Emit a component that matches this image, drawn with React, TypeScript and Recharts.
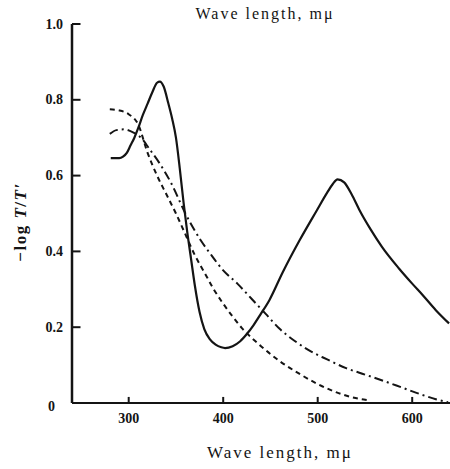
import React from "react";
import { LineChart, Line, XAxis, YAxis, ReferenceLine } from "recharts";

// Solid curve
const aWave = [281, 290, 294, 298, 302, 306, 310, 315, 320, 325, 330, 333, 337, 342, 346, 350, 354, 358, 362, 366, 370, 375, 380, 386, 392, 398, 402, 410, 418, 425, 432, 439, 449, 463, 481, 499, 510, 516, 521, 528, 536, 544, 556, 568, 586, 600, 611, 625, 639];
const aVal = [0.646, 0.646, 0.65, 0.66, 0.68, 0.7, 0.725, 0.76, 0.79, 0.82, 0.845, 0.848, 0.835, 0.79, 0.75, 0.7, 0.62, 0.53, 0.45, 0.38, 0.31, 0.24, 0.195, 0.168, 0.154, 0.147, 0.145, 0.15, 0.163, 0.182, 0.205, 0.232, 0.272, 0.345, 0.43, 0.508, 0.555, 0.578, 0.59, 0.582, 0.55, 0.51, 0.458, 0.412, 0.355, 0.315, 0.285, 0.245, 0.21];

// Short-dashed curve (ends near 550)
const bWave = [280, 290, 300, 310, 320, 330, 340, 350, 360, 370, 380, 390, 400, 410, 420, 430, 440, 460, 480, 500, 520, 540, 552];
const bVal = [0.775, 0.772, 0.762, 0.735, 0.66, 0.6, 0.55, 0.5, 0.445, 0.39, 0.345, 0.3, 0.262, 0.228, 0.197, 0.172, 0.15, 0.11, 0.078, 0.05, 0.028, 0.013, 0.008];

// Dash-dot curve (ends near 640)
const cWave = [280, 287, 295, 303, 313, 322, 332, 345, 360, 376, 386, 400, 415, 430, 445, 460, 475, 490, 510, 530, 550, 570, 590, 610, 625, 638];
const cVal = [0.71, 0.72, 0.722, 0.716, 0.7, 0.67, 0.635, 0.58, 0.5, 0.43, 0.395, 0.35, 0.315, 0.275, 0.235, 0.195, 0.165, 0.14, 0.115, 0.092, 0.075, 0.058, 0.04, 0.022, 0.01, 0.002];

const xTicks = [300, 400, 500, 600];
const yTicks = [0, 0.2, 0.4, 0.6, 0.8, 1.0];
const axisTitle = "Wave length, m\u03bc";

const X_MIN = 240;
const X_MAX = 640;
// inward tick lengths expressed in axis units (~8px and ~6px)
const Y_TICK_LEN = 9;
const X_TICK_LEN = 0.016;

const toPoints = (xs: number[], ys: number[]) => xs.map((x, i) => ({ x, y: ys[i] }));
const dataA = toPoints(aWave, aVal);
const dataB = toPoints(bWave, bVal);
const dataC = toPoints(cWave, cVal);

const FONT = "'Liberation Serif', 'DejaVu Serif', serif";
const INK = "#141414";

const YTick = (props: any) => {
  const { x, y, payload } = props;
  const v = Number(payload.value);
  const px = Number(x);
  const py = Number(y);
  const label = v === 0 ? "0" : v.toFixed(1);
  return (
    <text
      x={v === 0 ? px - 8 : px}
      y={v === 0 ? py + 3 : py}
      textAnchor="end"
      dominantBaseline="central"
      fontFamily={FONT}
      fontSize={14}
      fontWeight="bold"
      fill={INK}
    >
      {label}
    </text>
  );
};

const XTick = (props: any) => {
  const { x, y, payload } = props;
  return (
    <text
      x={Number(x)}
      y={Number(y) + 6}
      textAnchor="middle"
      dominantBaseline="central"
      fontFamily={FONT}
      fontSize={14}
      fontWeight="bold"
      fill={INK}
    >
      {String(payload.value)}
    </text>
  );
};

export default function App() {
  return (
    <div style={{ position: "absolute", left: 0, top: 0, width: 450, height: 469, background: "#fff" }}>
      <LineChart width={450} height={469} margin={{ top: 0, right: 0, bottom: 0, left: 0 }}>
        <XAxis
          xAxisId="top"
          orientation="top"
          type="number"
          dataKey="x"
          domain={[X_MIN, X_MAX]}
          height={24}
          axisLine={false}
          tickLine={false}
          tick={false}
          label={{ value: axisTitle, position: "center", dx: 4, dy: 1, fontFamily: FONT, fontSize: 16, letterSpacing: 2, fill: INK }}
        />
        <XAxis
          type="number"
          dataKey="x"
          domain={[X_MIN, X_MAX]}
          ticks={xTicks}
          height={66}
          axisLine={{ stroke: INK, strokeWidth: 2 }}
          tickLine={false}
          tickSize={6}
          tickMargin={3}
          tick={<XTick />}
          label={{ value: axisTitle, position: "center", dx: 19, dy: 16, fontFamily: FONT, fontSize: 17, letterSpacing: 2, fill: INK }}
        />
        <YAxis
          type="number"
          domain={[0, 1]}
          ticks={yTicks}
          width={72}
          axisLine={{ stroke: INK, strokeWidth: 2.5 }}
          tickLine={false}
          tickSize={6}
          tickMargin={3}
          tick={<YTick />}
        />
        {yTicks.map((t) => (
          <ReferenceLine
            key={`yt${t}`}
            segment={[{ x: X_MIN, y: t }, { x: X_MIN + Y_TICK_LEN, y: t }]}
            stroke={INK}
            strokeWidth={2}
            ifOverflow="visible"
          />
        ))}
        {xTicks.map((t) => (
          <ReferenceLine
            key={`xt${t}`}
            segment={[{ x: t, y: 0 }, { x: t, y: X_TICK_LEN }]}
            stroke={INK}
            strokeWidth={2}
            ifOverflow="visible"
          />
        ))}
        <Line data={dataA} dataKey="y" type="monotone" stroke={INK} strokeWidth={2.2} dot={false} isAnimationActive={false} />
        <Line data={dataB} dataKey="y" type="monotone" stroke={INK} strokeWidth={2} strokeDasharray="5 4" dot={false} isAnimationActive={false} />
        <Line data={dataC} dataKey="y" type="monotone" stroke={INK} strokeWidth={2} strokeDasharray="9 4 2 4" dot={false} isAnimationActive={false} />
      </LineChart>
      <div
        style={{
          position: "absolute",
          left: 20,
          top: 222,
          transform: "translate(-50%, -50%) rotate(-90deg)",
          whiteSpace: "nowrap",
          fontFamily: FONT,
          fontSize: 17,
          fontWeight: "bold",
          letterSpacing: 1.5,
          color: INK,
          lineHeight: 1,
        }}
      >
        {"\u2212log "}
        <i>T</i>/<i>T{"\u2032"}</i>
      </div>
    </div>
  );
}
